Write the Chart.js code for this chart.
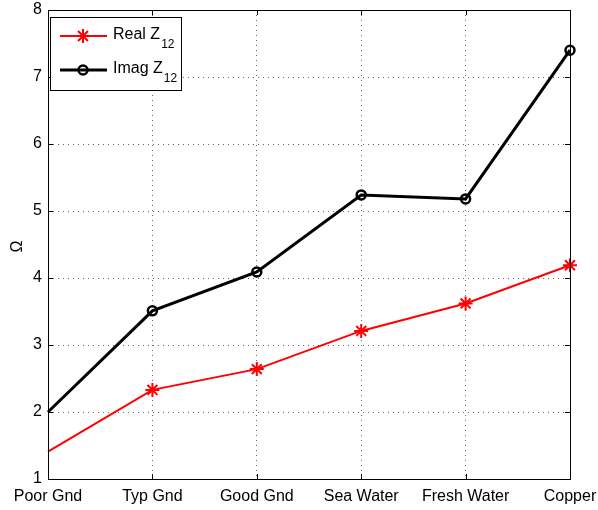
<!DOCTYPE html>
<html>
<head>
<meta charset="utf-8">
<script src="https://cdn.jsdelivr.net/npm/chart.js@4/dist/chart.umd.min.js"></script>
<style>
    html, body { margin: 0; padding: 0; background: #fff; }
    #wrap { width: 598px; height: 510px; }
</style>
</head>
<body>
<div id="wrap"><canvas id="z12Chart"></canvas></div>
<script>
// Ground types along the x axis
const grounds = ["Poor Gnd", "Typ Gnd", "Good Gnd", "Sea Water", "Fresh Water", "Copper"];

// Mutual impedance Z12 (ohms)
const realZ12 = [1.41, 2.33, 2.64, 3.21, 3.62, 4.19];
const imagZ12 = [2.0, 3.51, 4.09, 5.24, 5.18, 7.4];

// y axis range and ticks
const yTicks = [1, 2, 3, 4, 5, 6, 7, 8];

const fontFamily = '"Liberation Sans", Arial, Helvetica, sans-serif';

// MATLAB-like frame: box round the axes, inward ticks, legend and the Ω label
const framePlugin = {
    id: 'frame',
    afterDraw(chart) {
        const ctx = chart.ctx;
        const a = chart.chartArea;
        const xs = chart.scales.x;
        const ys = chart.scales.y;
        ctx.save();
        ctx.strokeStyle = '#000';
        ctx.lineWidth = 1;
        ctx.strokeRect(a.left + 0.5, a.top + 0.5, a.right - a.left, a.bottom - a.top);

        // inward ticks on all four sides
        const tl = 5;
        ctx.beginPath();
        grounds.forEach((g, i) => {
            const x = Math.round(xs.getPixelForValue(i)) + 0.5;
            ctx.moveTo(x, a.bottom);
            ctx.lineTo(x, a.bottom - tl);
            ctx.moveTo(x, a.top);
            ctx.lineTo(x, a.top + tl);
        });
        yTicks.forEach(v => {
            const y = Math.round(ys.getPixelForValue(v)) + 0.5;
            ctx.moveTo(a.left, y);
            ctx.lineTo(a.left + tl, y);
            ctx.moveTo(a.right, y);
            ctx.lineTo(a.right - tl, y);
        });
        ctx.stroke();

        // y axis label
        ctx.fillStyle = '#000';
        ctx.font = '16px ' + fontFamily;
        ctx.textAlign = 'center';
        ctx.textBaseline = 'middle';
        ctx.translate(18, (a.top + a.bottom) / 2 + 2);
        ctx.rotate(-Math.PI / 2);
        ctx.fillText('Ω', 0, 0);
        ctx.restore();

        // legend box
        ctx.save();
        const bx = a.left + 2, by = a.top + 7, bw = 131, bh = 73;
        ctx.fillStyle = '#fff';
        ctx.fillRect(bx, by, bw, bh);
        ctx.strokeStyle = '#000';
        ctx.lineWidth = 1;
        ctx.strokeRect(bx + 0.5, by + 0.5, bw, bh);

        const items = chart.data.datasets.map((ds, i) => ({
            ds: ds,
            y: by + 19 + i * 34,
            name: i === 0 ? 'Real Z' : 'Imag Z'
        }));
        items.forEach(it => {
            ctx.strokeStyle = it.ds.borderColor;
            ctx.lineWidth = it.ds.borderWidth;
            ctx.beginPath();
            ctx.moveTo(bx + 10, it.y);
            ctx.lineTo(bx + 57, it.y);
            ctx.stroke();
            ctx.lineWidth = it.ds.pointBorderWidth;
            ctx.fillStyle = 'rgba(0,0,0,0)';
            Chart.helpers.drawPoint(ctx, {
                pointStyle: it.ds.pointStyle,
                radius: it.ds.pointRadius[1],
                rotation: 0,
                borderWidth: it.ds.pointBorderWidth
            }, bx + 33, it.y);

            ctx.fillStyle = '#000';
            ctx.textAlign = 'left';
            ctx.textBaseline = 'alphabetic';
            ctx.font = '16px ' + fontFamily;
            const tx = bx + 63;
            ctx.fillText(it.name, tx, it.y + 3);
            const w = ctx.measureText(it.name).width;
            ctx.font = '12px ' + fontFamily;
            ctx.fillText('12', tx + w + 1, it.y + 12);
        });
        ctx.restore();
    }
};

new Chart(document.getElementById('z12Chart'), {
    type: 'line',
    data: {
        labels: grounds,
        datasets: [{
            label: 'Real Z12',
            data: realZ12,
            borderColor: '#ff0000',
            backgroundColor: 'rgba(0,0,0,0)',
            borderWidth: 2,
            pointStyle: 'star',
            pointRadius: [0, 7, 7, 7, 7, 7],
            pointBorderColor: '#ff0000',
            pointBackgroundColor: 'rgba(0,0,0,0)',
            pointBorderWidth: 2,
            tension: 0
        }, {
            label: 'Imag Z12',
            data: imagZ12,
            borderColor: '#000000',
            backgroundColor: 'rgba(0,0,0,0)',
            borderWidth: 3,
            pointStyle: 'circle',
            pointRadius: [0, 4.5, 4.5, 4.5, 4.5, 4.5],
            pointBorderColor: '#000000',
            pointBackgroundColor: 'rgba(0,0,0,0)',
            pointBorderWidth: 2.5,
            tension: 0
        }]
    },
    options: {
        responsive: true,
        maintainAspectRatio: false,
        animation: false,
        clip: false,
        layout: { padding: { top: 10, right: 28, left: 0, bottom: 0 } },
        plugins: {
            legend: { display: false },
            tooltip: { enabled: false }
        },
        scales: {
            x: {
                offset: false,
                grid: { color: 'rgba(0,0,0,0.6)', lineWidth: 1, drawTicks: false },
                border: { display: false, dash: [1, 4] },
                ticks: {
                    color: '#000',
                    font: { size: 16, family: fontFamily },
                    padding: 8,
                    maxRotation: 0,
                    autoSkip: false
                },
                afterFit(scale) {
                    scale.height = 31;
                    scale.paddingLeft = 0;
                    scale.paddingRight = 0;
                }
            },
            y: {
                min: 1,
                max: 8,
                grid: { color: 'rgba(0,0,0,0.6)', lineWidth: 1, drawTicks: false },
                border: { display: false, dash: [1, 4] },
                ticks: {
                    stepSize: 1,
                    color: '#000',
                    font: { size: 16, family: fontFamily },
                    padding: 6
                },
                afterFit(scale) {
                    scale.width = 48;
                    scale.paddingTop = 0;
                    scale.paddingBottom = 0;
                }
            }
        }
    },
    plugins: [framePlugin]
});
</script>
</body>
</html>
